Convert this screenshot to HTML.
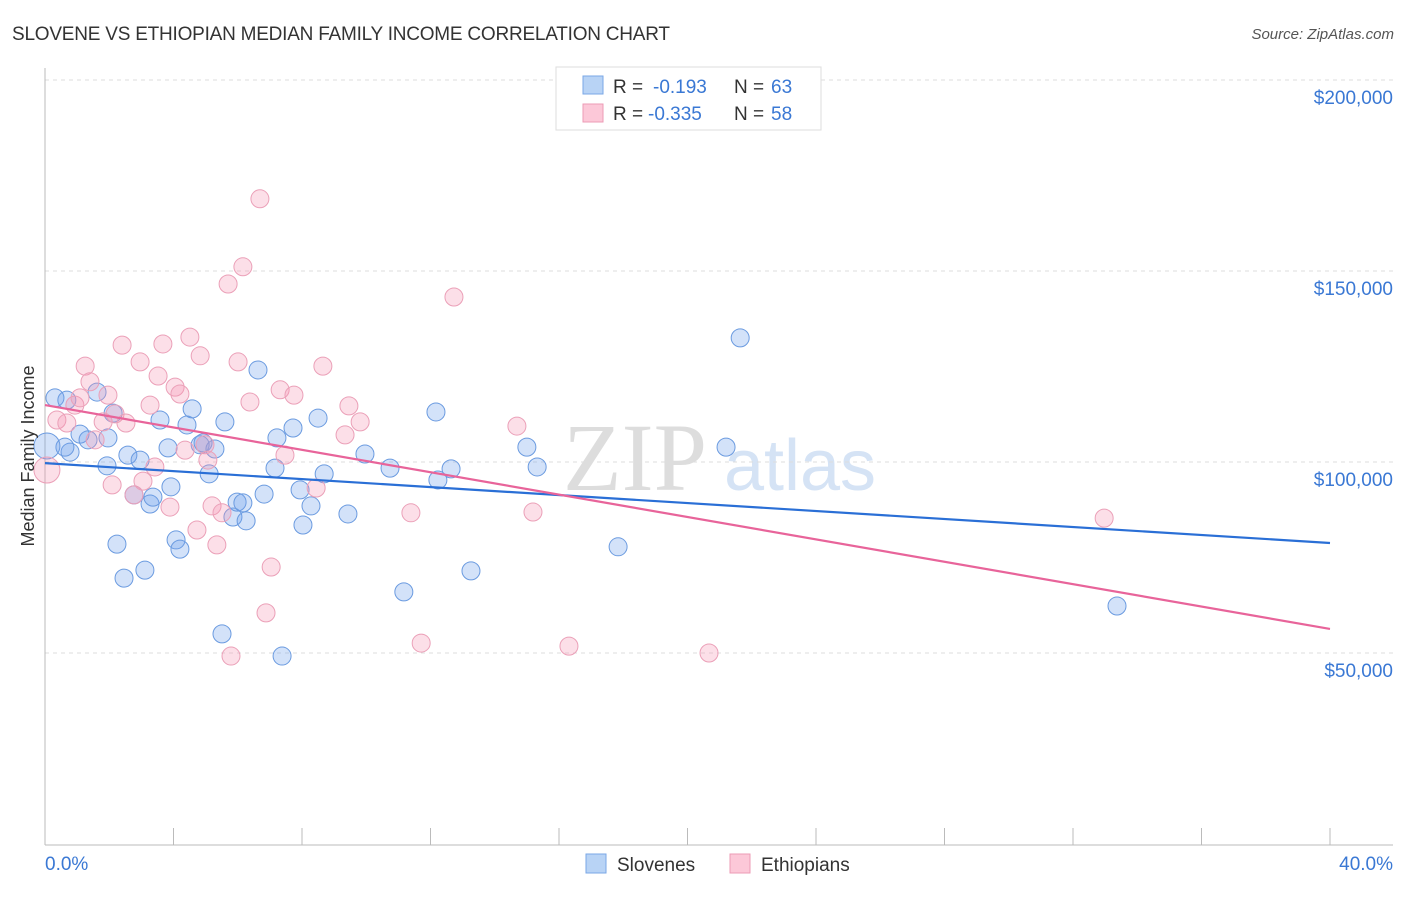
<!DOCTYPE html>
<html><head><meta charset="utf-8"><style>
body{margin:0;background:#fff;font-family:"Liberation Sans",sans-serif}
</style></head><body>
<svg width="1406" height="892" xmlns="http://www.w3.org/2000/svg">
<text x="12" y="40" font-size="19" fill="#333" textLength="658">SLOVENE VS ETHIOPIAN MEDIAN FAMILY INCOME CORRELATION CHART</text>
<text x="1394" y="39" font-size="15" fill="#555" text-anchor="end" font-style="italic">Source: ZipAtlas.com</text>
<text x="635" y="490" font-size="96" fill="#ddd" font-family="Liberation Serif,serif" text-anchor="middle">ZIP</text>
<text x="800" y="490" font-size="72" fill="#d5e3f5" text-anchor="middle">atlas</text>
<g id="grid"></g>
<g id="axes"></g>
<g id="pts"></g>
<g id="lines"></g>
<text transform="translate(34,456) rotate(-90)" font-size="18" fill="#333" text-anchor="middle">Median Family Income</text>
<text x="45" y="870" font-size="19" fill="#3a78d4">0.0%</text>
<text x="1393" y="870" font-size="19" fill="#3a78d4" text-anchor="end">40.0%</text>
<g>
<rect x="556" y="67" width="265" height="63" fill="#fff" stroke="#ddd"/>
<rect x="583" y="76" width="20" height="18" fill="#b8d3f5" stroke="#7aa7e6"/>
<rect x="583" y="104" width="20" height="18" fill="#fcc8d8" stroke="#ec9bb6"/>
<text x="613" y="93" font-size="19" fill="#333">R =</text>
<text x="653" y="93" font-size="19" fill="#3a78d4">-0.193</text>
<text x="734" y="93" font-size="19" fill="#333">N =</text>
<text x="771" y="93" font-size="19" fill="#3a78d4">63</text>
<text x="613" y="120" font-size="19" fill="#333">R =</text>
<text x="648" y="120" font-size="19" fill="#3a78d4">-0.335</text>
<text x="734" y="120" font-size="19" fill="#333">N =</text>
<text x="771" y="120" font-size="19" fill="#3a78d4">58</text>
</g>
<g>
<rect x="586" y="854" width="20" height="19" fill="#b8d3f5" stroke="#7aa7e6"/>
<text x="617" y="871" font-size="19" fill="#333">Slovenes</text>
<rect x="730" y="854" width="20" height="19" fill="#fcc8d8" stroke="#ec9bb6"/>
<text x="761" y="871" font-size="19" fill="#333">Ethiopians</text>
</g>
</svg>
<script>
const yTicks=[50000,100000,150000,200000];
const yTickLabels=["$50,000","$100,000","$150,000","$200,000"];
const xTicks=[0,4,8,12,16,20,24,28,32,36,40];
const blueX=[0.31,0.68,0.78,0.62,1.62,1.09,1.34,1.96,2.12,1.93,2.58,2.96,2.24,2.46,3.11,2.77,3.27,3.36,3.58,3.83,3.92,4.08,4.20,4.42,4.58,4.83,4.92,5.11,5.29,5.51,5.60,5.85,5.98,6.16,6.26,6.63,6.82,7.22,7.16,7.38,7.72,7.94,8.03,8.28,8.50,8.69,9.43,9.96,10.74,11.17,12.17,12.23,12.64,13.26,15.00,15.32,17.84,21.20,21.64,33.37,0.06];
const blueY=[116.8,116.2,102.6,103.9,118.3,107.3,105.8,106.3,112.8,99.0,101.8,100.5,78.5,69.6,71.7,91.4,89.0,90.8,111.0,103.7,93.5,79.6,77.2,109.7,113.9,104.5,105.0,96.9,103.4,55.0,110.5,85.6,89.5,89.3,84.6,124.1,91.6,106.3,98.4,49.2,108.9,92.7,83.5,88.5,111.5,96.9,86.4,102.1,98.4,66.0,113.1,95.3,98.2,71.5,103.9,98.7,77.8,103.9,132.5,62.3,104.2];
const pinkX=[0.06,0.37,0.68,0.93,1.09,1.25,1.40,1.56,1.81,1.96,2.09,2.18,2.40,2.52,2.77,2.96,3.05,3.27,3.42,3.52,3.67,3.89,4.05,4.20,4.36,4.51,4.73,4.83,4.98,5.07,5.20,5.35,5.51,5.70,5.79,6.01,6.16,6.38,6.69,6.88,7.04,7.32,7.47,7.75,8.44,8.65,9.34,9.46,9.81,11.39,11.71,12.73,14.69,15.19,16.31,20.67,32.97];
const pinkY=[97.9,111.0,110.2,114.9,116.8,125.1,121.0,105.8,110.5,117.5,94.0,112.6,130.6,110.2,91.4,126.2,95.0,114.9,98.7,122.5,130.9,88.2,119.6,117.8,103.1,132.7,82.2,127.8,104.5,100.5,88.5,78.3,86.7,146.6,49.2,126.2,151.1,115.7,168.9,60.5,72.5,118.9,101.8,117.5,93.2,125.1,107.1,114.7,110.5,86.7,52.6,143.2,109.4,86.9,51.8,50.0,85.3];
const blueTrend=[99.7,78.8];
const pinkTrend=[114.9,56.3];
const NS="http://www.w3.org/2000/svg";
const X=v=>45+v/40*1285;
const Y=k=>844-k/50*191;
function mk(t,a,p){const e=document.createElementNS(NS,t);for(const k in a)e.setAttribute(k,a[k]);document.getElementById(p).appendChild(e);return e;}
yTicks.forEach((t,i)=>{
 const g=mk('line',{x1:45,x2:1393,y1:Y(t/1000),y2:Y(t/1000),stroke:'#ddd','stroke-dasharray':'4,4'},'grid');
 
 
 const l=mk('text',{x:1393,y:Y(t/1000)+24,'font-size':19,fill:'#3a78d4','text-anchor':'end'},'grid');
 l.textContent=yTickLabels[i];
 
 
});
const ax=mk('line',{x1:45,x2:45,y1:68,y2:845,stroke:'#bbb'},'axes');


const bx=mk('line',{x1:45,x2:1393,y1:845,y2:845,stroke:'#bbb'},'axes');


xTicks.forEach(t=>{
 const e=mk('line',{x1:X(t),x2:X(t),y1:828,y2:845,stroke:'#bbb'},'axes');
 
 
});
function pts(xs,ys,fill,stroke,name){
 xs.forEach((x,i)=>{
  const c=mk('circle',{cx:X(x),cy:Y(ys[i]),r:(x<0.1?13:9),fill:fill,stroke:stroke,'stroke-width':1},'pts');
  
  
 });
}
pts(blueX,blueY,'rgba(110,160,235,0.3)','#6b9be0','slovene-point');
pts(pinkX,pinkY,'rgba(245,150,180,0.3)','#eba0b8','ethiopian-point');
const bl=mk('line',{x1:X(0),x2:X(40),y1:Y(blueTrend[0]),y2:Y(blueTrend[1]),stroke:'#2a6fd6','stroke-width':2.2},'lines');


const pl=mk('line',{x1:X(0),x2:X(40),y1:Y(pinkTrend[0]),y2:Y(pinkTrend[1]),stroke:'#e8649a','stroke-width':2.2},'lines');


</script>
</body></html>
